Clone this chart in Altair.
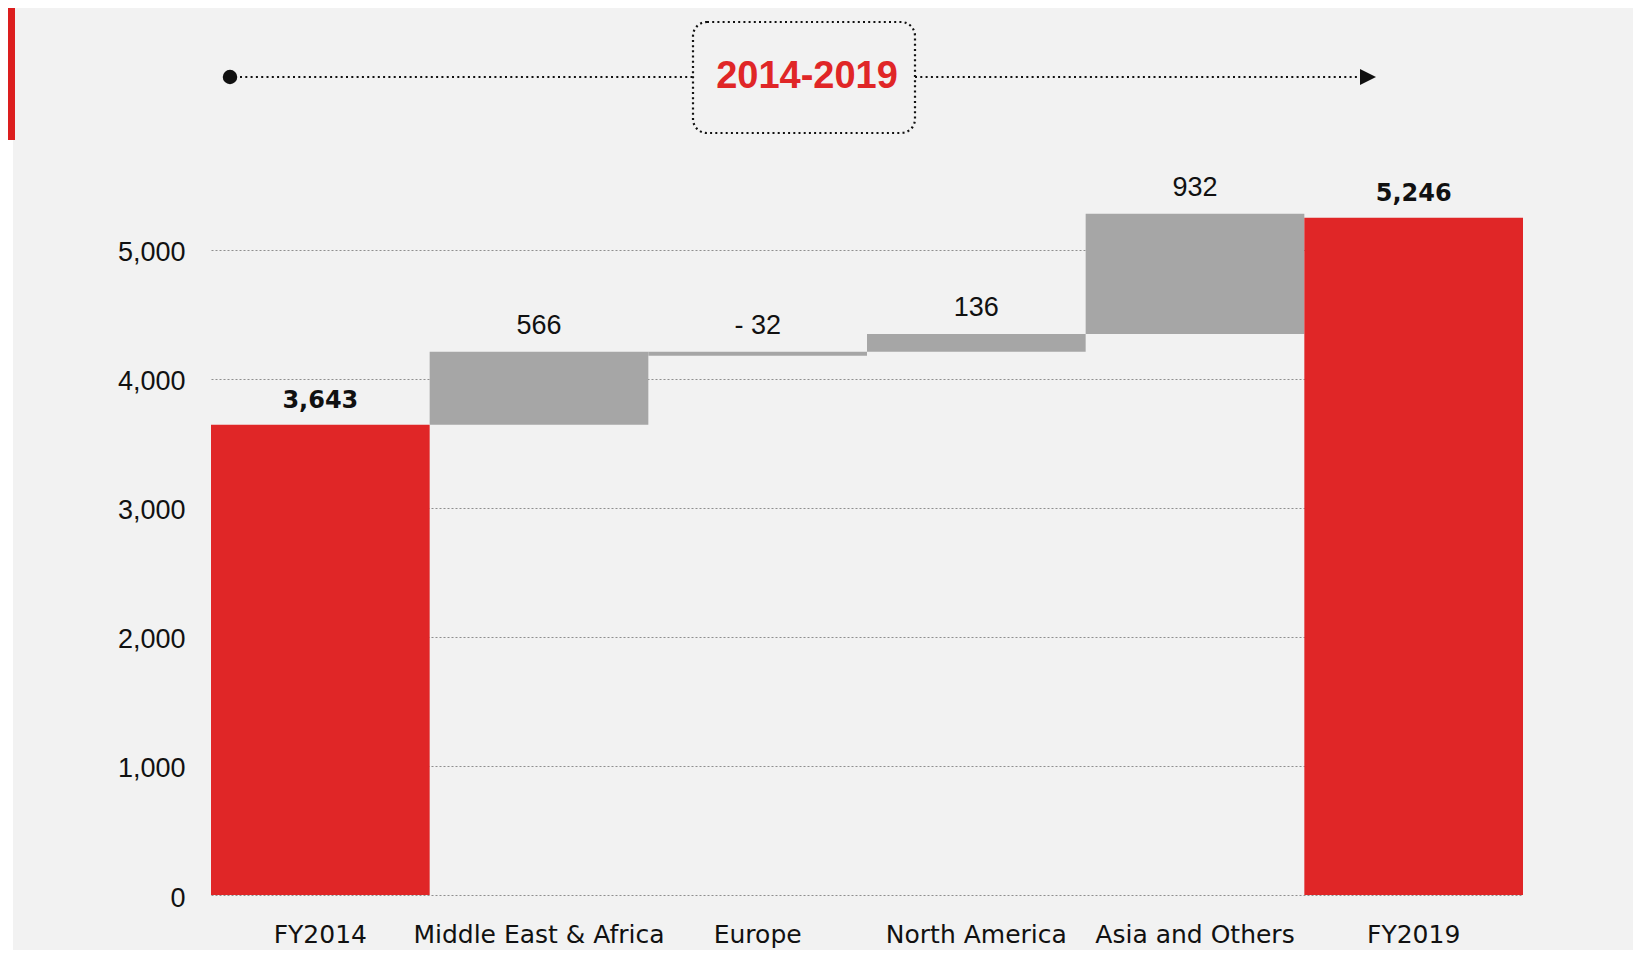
import altair as alt
import pandas as pd

# ---- data ----
categories = ["FY2014", "Middle East & Africa", "Europe", "North America", "Asia and Others", "FY2019"]
values = [3643, 566, -32, 136, 932, 5246]
kinds = ["total", "change", "change", "change", "change", "total"]
labels = ["3,643", "566", "- 32", "136", "932", "5,246"]
y_ticks = [0, 1000, 2000, 3000, 4000, 5000]
period_label = "2014-2019"

RED = "#e02627"
GRAY = "#a6a6a6"
BG = "#f2f2f2"

# waterfall as drawn in the reference: the running base only advances on increases
rows = []
base = 0
for c, v, k, l in zip(categories, values, kinds, labels):
    if k == "total":
        start, end = 0, v
        base = v
    else:
        start, end = base, base + v
        if v > 0:
            base = end
    rows.append(dict(cat=c, start=start, end=end, top=max(start, end), kind=k, label=l))
df = pd.DataFrame(rows)

W, H = 1312, 710
x_enc = alt.X("cat:N", sort=categories,
              scale=alt.Scale(paddingInner=0, paddingOuter=0),
              axis=alt.Axis(title=None, labelAngle=0, domain=False, ticks=False,
                            labelFont="DejaVu Sans", labelFontSize=25, labelColor="#111111",
                            labelPadding=27, labelLimit=0))
y_scale = alt.Scale(domain=[0, 5500], nice=False)

base_chart = alt.Chart(df)

bars = base_chart.mark_bar().encode(
    x=x_enc,
    y=alt.Y("start:Q", scale=y_scale,
            axis=alt.Axis(title=None, values=y_ticks, format=",.0f", domain=False, ticks=False,
                          labelFont="Liberation Sans", labelFontSize=27, labelColor="#111111",
                          labelPadding=26, labelOffset=3, grid=True, gridDash=[2, 2],
                          gridColor="#8f8f8f", gridWidth=1)),
    y2="end:Q",
    color=alt.Color("kind:N", scale=alt.Scale(domain=["total", "change"], range=[RED, GRAY]),
                    legend=None),
)

total_text = base_chart.transform_filter(alt.datum.kind == "total").mark_text(
    font="DejaVu Sans", fontWeight="bold", fontSize=24, baseline="alphabetic", dy=-17,
    color="#111111"
).encode(x=alt.X("cat:N", sort=categories), y=alt.Y("top:Q", scale=y_scale), text="label:N")

change_text = base_chart.transform_filter(alt.datum.kind == "change").mark_text(
    font="Liberation Sans", fontSize=27, baseline="alphabetic", dy=-18, color="#111111"
).encode(x=alt.X("cat:N", sort=categories), y=alt.Y("top:Q", scale=y_scale), text="label:N")

one = alt.Data(values=[{"t": period_label}])

HY = -108
dot = alt.Chart(one).mark_point(filled=True, shape="circle", size=210, color="#111111",
                                opacity=1).encode(x=alt.value(19), y=alt.value(HY))
line1 = alt.Chart(one).mark_rule(color="#111111", strokeWidth=2, strokeDash=[2, 3.3]).encode(
    x=alt.value(29), x2=alt.value(482), y=alt.value(HY))
line2 = alt.Chart(one).mark_rule(color="#111111", strokeWidth=2, strokeDash=[2, 3.3]).encode(
    x=alt.value(704), x2=alt.value(1150), y=alt.value(HY))
box = alt.Chart(one).mark_rect(fill=BG, stroke="#111111", strokeWidth=2.2, strokeDash=[2, 3.2],
                               cornerRadius=14).encode(
    x=alt.value(482), x2=alt.value(704), y=alt.value(-163), y2=alt.value(-52))
title = alt.Chart(one).mark_text(font="Liberation Sans", fontWeight="bold", fontSize=38,
                                 color=RED, baseline="middle", align="center").encode(
    x=alt.value(596), y=alt.value(HY), text="t:N")
arrow = alt.Chart(one).mark_point(filled=True, shape="M-1,-1L1,0L-1,1Z", size=256,
                                  color="#111111", opacity=1).encode(
    x=alt.value(1157), y=alt.value(HY))

red_strip = alt.Chart(one).mark_rect(color="#dc1e1e").encode(
    x=alt.value(-203), x2=alt.value(-196), y=alt.value(-177), y2=alt.value(-45))
white_strip = alt.Chart(one).mark_rect(color="#ffffff").encode(
    x=alt.value(-203), x2=alt.value(-198), y=alt.value(-45), y2=alt.value(H + 60))

chart = alt.layer(
    bars, total_text, change_text, line1, line2, box, title, dot, arrow, red_strip, white_strip
).properties(
    width=W, height=H,
    autosize=alt.AutoSizeParams(type="none"),
    padding={"left": 203, "top": 177, "right": 110, "bottom": 55},
    background=BG,
).configure_view(stroke=None)

chart.save("out.html", embed_options={"renderer": "svg", "actions": False})
